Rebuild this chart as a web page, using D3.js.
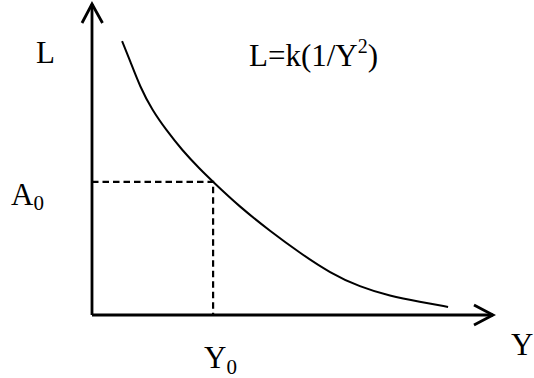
<!DOCTYPE html>
<html>
<head>
<meta charset="utf-8">
<script src="https://cdn.jsdelivr.net/npm/d3@7"></script>
<style>
  body { margin: 0; background: #fff; }
  svg { display: block; }
  text { font-family: "Liberation Serif", "Times New Roman", serif; fill: #000; }
</style>
</head>
<body>
<div id="chart"></div>
<script>
// curve points (arbitrary units, 0..100 on both axes)
const curveY = [7.5, 9.5, 12.0, 15.0, 18.5, 22.4, 26.9, 30.2, 36.9, 44.4, 51.9, 59.4, 66.8, 74.3, 81.8, 88.8];
const curveL = [88.1, 81.7, 73.3, 65.9, 59.5, 53.1, 46.9, 42.8, 34.7, 27.0, 19.9, 13.5, 9.0, 6.1, 4.2, 2.6];
// the marked point (Y0, A0)
const markY = [30.2];
const markL = [42.8];

const width = 534, height = 378;

const svg = d3.select("#chart").append("svg")
    .attr("width", width)
    .attr("height", height);

const x = d3.scaleLinear().domain([0, 100]).range([92, 493]);
const y = d3.scaleLinear().domain([0, 100]).range([315, 4]);

// axes drawn as plain lines with open arrow heads
const axis_g = svg.append("g")
    .attr("stroke", "#000")
    .attr("stroke-width", 2.8)
    .attr("fill", "none");

axis_g.append("path")
    .attr("d", `M${x(0)},${y(0)} L${x(0)},${y(100)}`);
axis_g.append("path")
    .attr("d", `M${x(0) - 10},${y(100) + 19} L${x(0)},${y(100)} L${x(0) + 10.5},${y(100) + 19}`);

axis_g.append("path")
    .attr("d", `M${x(0)},${y(0)} L${x(100)},${y(0)}`);
axis_g.append("path")
    .attr("d", `M${x(100) - 19},${y(0) - 10} L${x(100)},${y(0)} L${x(100) - 19},${y(0) + 10}`);

// dashed guides to the marked point
const pts = markY.map((v, i) => ({ yv: v, lv: markL[i] }));
svg.selectAll(".guide")
    .data(pts)
    .join("path")
    .attr("fill", "none")
    .attr("stroke", "#000")
    .attr("stroke-width", 2.2)
    .attr("stroke-dasharray", "6.5,4")
    .attr("d", d => `M${x(0)},${y(d.lv)} L${x(d.yv)},${y(d.lv)} L${x(d.yv)},${y(0)}`);

// the curve
const data = curveY.map((v, i) => ({ yv: v, lv: curveL[i] }));
svg.append("path")
    .datum(data)
    .attr("fill", "none")
    .attr("stroke", "#000")
    .attr("stroke-width", 2)
    .attr("d", d3.line()
        .x(d => x(d.yv))
        .y(d => y(d.lv))
        .curve(d3.curveBasis));

// labels
const fs = 31;
svg.append("text")
    .attr("x", 36)
    .attr("y", 63)
    .attr("font-size", fs)
    .text("L");

const formula = svg.append("text")
    .attr("x", 249)
    .attr("y", 66)
    .attr("font-size", fs);
formula.append("tspan").text("L=k(1/Y");
formula.append("tspan").attr("font-size", 20).attr("dy", -13).text("2");
formula.append("tspan").attr("dy", 13).text(")");

const a0 = svg.append("text")
    .attr("x", 11)
    .attr("y", 205)
    .attr("font-size", fs);
a0.append("tspan").text("A");
a0.append("tspan").attr("font-size", 21).attr("dy", 5).text("0");

const y0 = svg.append("text")
    .attr("x", 204)
    .attr("y", 368)
    .attr("font-size", fs);
y0.append("tspan").text("Y");
y0.append("tspan").attr("font-size", 21).attr("dy", 6).text("0");

svg.append("text")
    .attr("x", 511)
    .attr("y", 355)
    .attr("font-size", fs)
    .text("Y");
</script>
</body>
</html>
